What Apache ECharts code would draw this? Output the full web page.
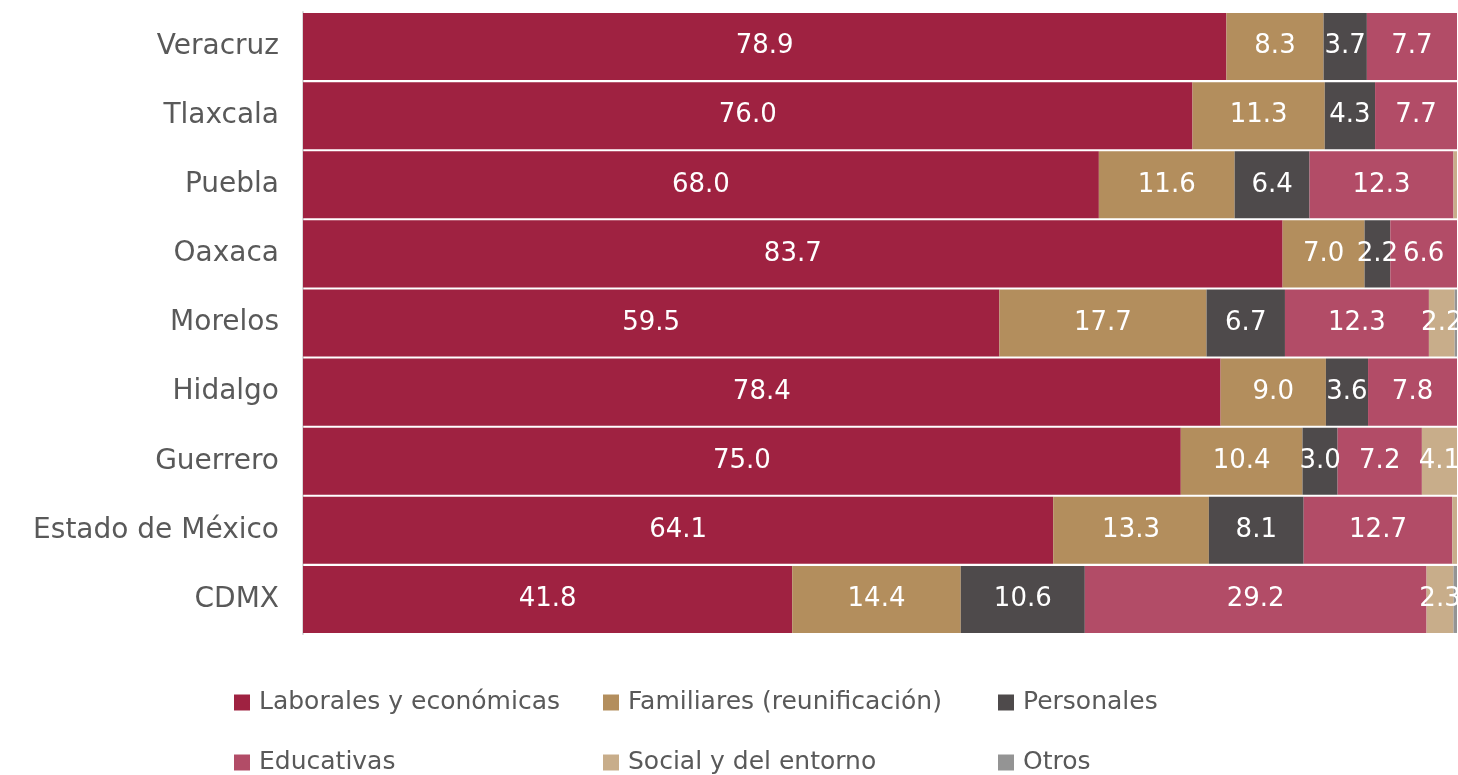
<!DOCTYPE html>
<html>
<head>
<meta charset="utf-8">
<script src="https://cdn.jsdelivr.net/npm/echarts@6/dist/echarts.min.js"></script>
<style>
html,body{margin:0;padding:0;background:#fff;}
#c{width:1458px;height:775px;}
</style>
</head>
<body>
<div id="c"></div>
<script>
const categories = ['CDMX','Estado de México','Guerrero','Hidalgo','Morelos','Oaxaca','Puebla','Tlaxcala','Veracruz'];
const seriesNames = ['Laborales y económicas','Familiares (reunificación)','Personales','Educativas','Social y del entorno','Otros'];
const laborales  = [41.8, 64.1, 75.0, 78.4, 59.5, 83.7, 68.0, 76.0, 78.9];
const familiares = [14.4, 13.3, 10.4,  9.0, 17.7,  7.0, 11.6, 11.3,  8.3];
const personales = [10.6,  8.1,  3.0,  3.6,  6.7,  2.2,  6.4,  4.3,  3.7];
const educativas = [29.2, 12.7,  7.2,  7.8, 12.3,  6.6, 12.3,  7.7,  7.7];
const social     = [ 2.3,  1.1,  4.1,  0.5,  2.2,  0.3,  0.3,  0.3,  0.0];
const otros      = [ 0.3,  0.0,  0.0,  0.0,  0.3,  0.0,  0.0,  0.0,  0.0];
const colors = ['#9F2241','#B38E5D','#4E4A4B','#B24C67','#C8AD8A','#949494'];
const allData = [laborales, familiares, personales, educativas, social, otros];

const FONT = 'DejaVu Sans';
const chart = echarts.init(document.getElementById('c'));

const series = seriesNames.map((name, i) => ({
  name: name,
  type: 'bar',
  stack: 'total',
  barCategoryGap: '3%',
  data: allData[i],
  itemStyle: { color: colors[i] },
  label: {
    show: true,
    position: 'inside',
    color: '#ffffff',
    fontFamily: FONT,
    fontSize: 26,
    formatter: p => (p.value >= 2 ? p.value.toFixed(1) : '')
  },
  emphasis: { disabled: true },
  animation: false
}));

const legendPos = [
  {left: 234, top: 690}, {left: 603, top: 690}, {left: 998, top: 690},
  {left: 234, top: 750}, {left: 603, top: 750}, {left: 998, top: 750}
];
const legends = seriesNames.map((name, i) => ({
  data: [name],
  left: legendPos[i].left,
  top: legendPos[i].top,
  icon: 'rect',
  itemWidth: 16,
  itemHeight: 16,
  itemGap: 0,
  padding: 0,
  selectedMode: false,
  textStyle: { fontFamily: FONT, fontSize: 25, color: '#595959', padding: [0, 0, 0, 4] }
}));

chart.setOption({
  animation: false,
  color: colors,
  grid: { left: 303, right: 1, top: 12, bottom: 141, containLabel: false },
  xAxis: {
    type: 'value',
    min: 0,
    max: 98.6,
    show: false,
    splitLine: { show: false }
  },
  yAxis: {
    type: 'category',
    data: categories,
    axisLine: { show: true, lineStyle: { color: '#D9D9D9', width: 2 } },
    axisTick: { show: false },
    axisLabel: { fontFamily: FONT, fontSize: 28, color: '#595959', margin: 24 }
  },
  legend: legends,
  series: series
});
</script>
</body>
</html>
